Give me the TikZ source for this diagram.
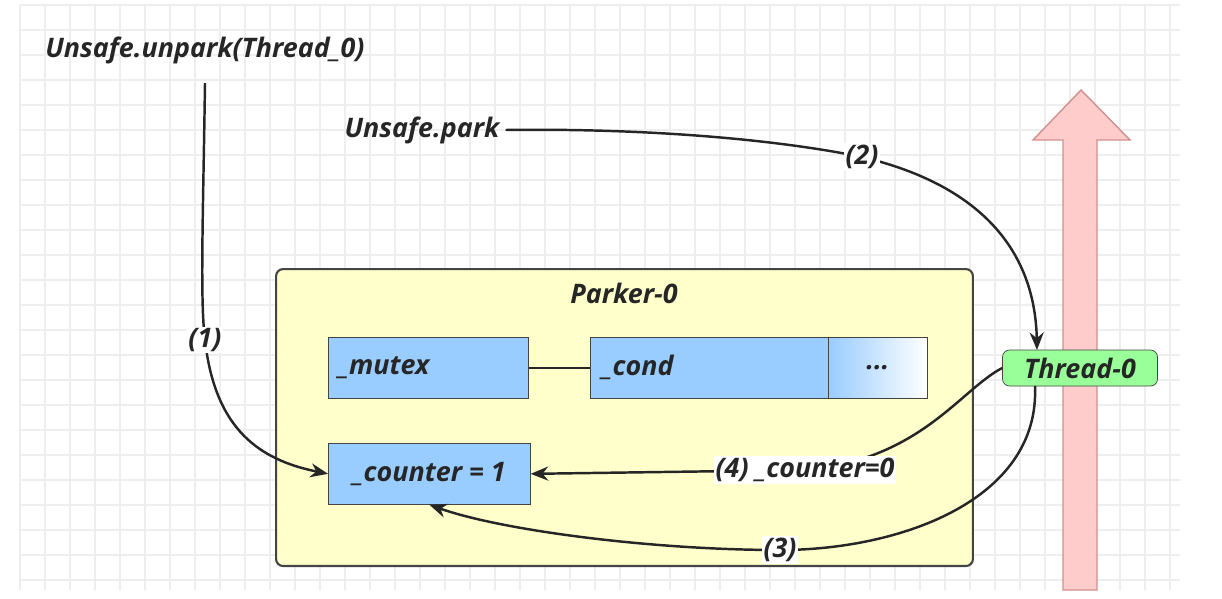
\documentclass[tikz,border=0pt]{standalone}
\usepackage{fontspec}
\setmainfont{Open Sans}
\usetikzlibrary{arrows.meta,shapes.geometric}
\definecolor{gridc}{HTML}{EEEEEE}
\definecolor{boxy}{HTML}{FFFFCC}
\definecolor{blu}{HTML}{99CCFF}
\definecolor{grn}{HTML}{99FF99}
\definecolor{pnk}{HTML}{FFCCCC}
\definecolor{pnkb}{HTML}{D09090}
\definecolor{edge}{HTML}{444444}
\tikzset{
 txt/.style={font=\bfseries\itshape\fontsize{15.3}{18}\selectfont, text=black!85},
 field/.style={draw=edge, fill=blu, minimum height=1.22cm, anchor=north west, txt, inner sep=0pt},
 conn/.style={draw=black!85, line width=1.4pt, -{Stealth[length=10pt,width=8pt]}},
 lbl/.style={txt, fill=white, inner sep=1pt}
}
\begin{document}
\begin{tikzpicture}[x=0.02cm,y=-0.02cm]
\useasboundingbox (0,0) rectangle (1222,598);
\foreach \x in {20,45,...,1180} \draw[gridc,line width=0.6pt] (\x,5) -- (\x,590);
\foreach \y in {5,30,...,590} \draw[gridc,line width=0.6pt] (20,\y) -- (1180,\y);
% big arrow
\draw[pnkb, fill=pnk, line width=0.8pt] (1063,590) -- (1063,140) -- (1033,140) -- (1081,90) -- (1130,140) -- (1097,140) -- (1097,590) -- cycle;
% Parker box
\node[draw=edge, fill=boxy, rounded corners=4pt, line width=1.2pt, minimum width=13.94cm, minimum height=5.94cm, anchor=north west] (parker) at (275,268) {};
\node[txt] (ptitle) at (624,293) {Parker-0};
\node[field, minimum width=4cm, text width=3.6cm, align=left] (mutex) at (328,337) {\_mutex};
\node[field, minimum width=4.76cm, text width=4.3cm, align=left] (cond) at (590,337) {\_cond};
\node[draw=edge, left color=blu, right color=white, minimum width=1.98cm, minimum height=1.22cm, anchor=north west, txt, inner sep=0pt] (dots) at (828,337) {...};
\node[field, minimum width=4.04cm] (counter) at (328,443) {\_counter = 1};
\draw[black!85, line width=1.4pt] (mutex.east) -- (cond.west);
\node[draw=edge, fill=grn, rounded corners=4pt, minimum width=3.1cm, minimum height=0.72cm, txt, inner sep=0pt] (thread) at (1080,368) {Thread-0};
\node[txt] (unpark) at (205,50) {Unsafe.unpark(Thread\_0)};
\node[txt] (park) at (422,130) {Unsafe.park};
\coordinate (u0) at (205,83);
\draw[conn] (u0) .. controls (203,220) and (200,300) .. (205,340) node[lbl]{(1)} .. controls (215,430) and (260,460) .. (counter.west);
\draw[conn] (park.east) .. controls (650,128) and (780,140) .. (862,157) node[lbl]{(2)} .. controls (980,185) and (1035,250) .. (1037,350);
\draw[conn] (thread.west) .. controls (960,390) and (920,460) .. (805,470) node[lbl]{(4) \_counter=0} -- (counter.east);
\draw[conn] (1035,386) .. controls (1040,500) and (900,550) .. (780,550) node[lbl]{(3)} .. controls (650,550) and (500,530) .. (counter.south);
\end{tikzpicture}
\end{document}
